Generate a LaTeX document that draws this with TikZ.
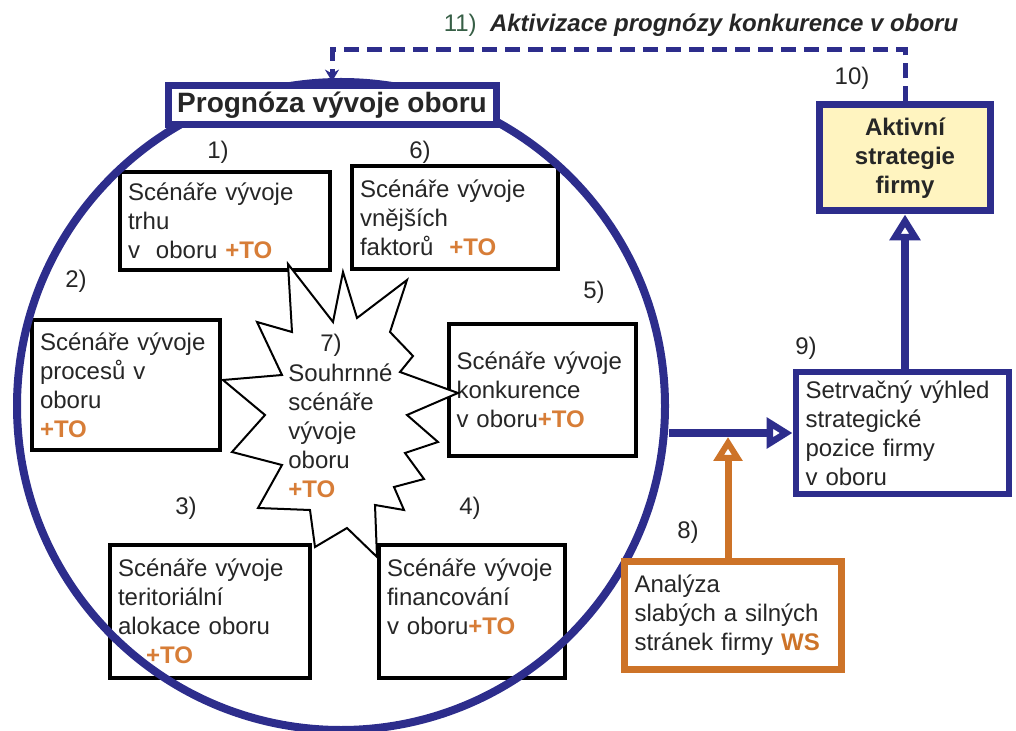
\documentclass[tikz,border=0pt]{standalone}
\usepackage{fontspec}
\setmainfont{Liberation Sans}
\usetikzlibrary{arrows.meta}

\definecolor{progblue}{RGB}{45,45,140}
\definecolor{wsorange}{RGB}{205,115,40}
\definecolor{toorange}{RGB}{215,125,55}
\definecolor{stratyellow}{RGB}{255,244,192}
\definecolor{numgreen}{RGB}{55,95,70}
\newcommand{\plusTO}{\textcolor{toorange}{\textbf{+TO}}}

\begin{document}
\begin{tikzpicture}[x=0.5pt, y=-0.5pt, font=\fontsize{12}{14.5}\selectfont, text=black!85,
  scen/.style={draw=black, line width=2pt, fill=white, align=left, inner xsep=4pt},
  bluebox/.style={draw=progblue, line width=3.5pt, fill=white},
  num/.style={inner sep=1pt},
  flow/.style={progblue, line width=4pt, -{Triangle[open, length=13pt, width=15pt]}},
  wsflow/.style={wsorange, line width=3.5pt, -{Triangle[open, length=12pt, width=14pt]}},
  feedback/.style={progblue, line width=2.5pt, dash pattern=on 7.5pt off 4pt, -{Stealth[length=6pt, width=7pt]}}]
  \useasboundingbox (0,0) rectangle (1016,731);
  % the six partial scenarios round the summary one (sizes of the box paths in pt)
  \node[scen, text width=97pt, minimum height=49pt] (s1) at (225,221) {Scénáře vývoje\\trhu\\v\ \ oboru \plusTO};
  \node[scen, text width=95pt, minimum height=51.5pt] (s6) at (455,218) {Scénáře vývoje\\vnějších\\faktorů\ \ \plusTO};
  \node[scen, text width=86pt, minimum height=65pt] (s2) at (126,385) {Scénáře vývoje\\procesů v\\oboru\\\plusTO};
  \node[scen, text width=85.5pt, minimum height=66pt] (s5) at (542,390) {Scénáře vývoje\\konkurence\\v oboru\plusTO};
  \node[scen, text width=92pt, minimum height=66.5pt] (s3) at (210,611) {Scénáře vývoje\\teritoriální\\alokace oboru\\\hspace*{14pt}\plusTO};
  \node[scen, text width=85pt, minimum height=66.5pt] (s4) at (472,611) {Scénáře vývoje\\financování\\v oboru\plusTO\\\mbox{}};
  % 7) the summary scenario, a burst touching the boxes
  \draw[line width=1pt, fill=white] (288,264) -- (333,322) -- (343,272) -- (357,318) -- (407,280)
    -- (390,332) -- (413,356) -- (400,372) -- (458,393) -- (407,415) -- (438,442) -- (405,453)
    -- (424,479) -- (394,487) -- (404,510) -- (375,505) -- (377,557) -- (347,528) -- (315,547)
    -- (310,510) -- (258,508) -- (282,465) -- (232,452) -- (265,415) -- (223,380) -- (282,375)
    -- (257,322) -- (292,332) -- cycle;
  \node[anchor=north west, inner sep=0, align=left] (sum) at (288,363) {Souhrnné\\scénáře\\vývoje\\oboru\\\plusTO};
  % the whole forecast of the branch
  \node[circle, draw=progblue, line width=4pt, minimum size=324pt, inner sep=0] (prog) at (341,406) {};
  \node[bluebox, minimum width=164pt, minimum height=19.5pt, font=\fontsize{14}{16}\selectfont\bfseries] (title) at (332,105) {Prognóza vývoje oboru};
  % the firm
  \node[bluebox, fill=stratyellow, minimum width=85.5pt, minimum height=53pt, align=center, font=\fontsize{12}{14.5}\selectfont\bfseries] (akt) at (905,158) {Aktivní\\strategie\\firmy};
  \node[bluebox, line width=3pt, text width=96.5pt, minimum height=60.5pt, align=left, inner xsep=5pt] (setr) at (902,433) {Setrvačný výhled\\strategické\\pozice firmy\\v oboru};
  \node[bluebox, draw=wsorange, text width=98.5pt, minimum height=54pt, align=left, inner xsep=5pt] (anal) at (733,615) {Analýza\\slabých a silných\\stránek firmy \textcolor{wsorange}{\textbf{WS}}};
  % connectors
  \coordinate (meet) at (728,437);
  \draw[flow] (setr.west -| prog.east) -- (setr.west);
  \draw[wsflow] (anal.north -| meet) -- (meet);
  \draw[flow] (setr.north -| akt.south) -- (akt.south);
  \draw[feedback] (akt.north) -- (akt.north |- 0,50) -| (title.north);
  % step numbers
  \foreach \k/\px/\py in {1/218/152, 6/420/152, 2/76/281, 5/594/292, 3/186/508, 4/470/508,
      7/331/345, 8/688/532, 9/806/348, 10/852/78}
    \node[num] (n\k) at (\px,\py) {\k)};
  \node[num] (n11) at (701,25) {\textcolor{numgreen}{11)}\ \ \textbf{\textit{Aktivizace prognózy konkurence v oboru}}};
\end{tikzpicture}
\end{document}
